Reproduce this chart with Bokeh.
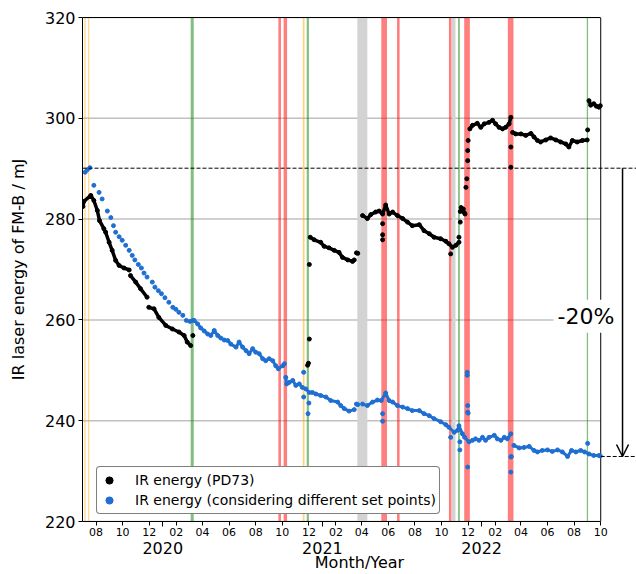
import numpy as np
from bokeh.plotting import figure
from bokeh.models import (Arrow, OpenHead, Label, Legend, LegendItem,
                          DatetimeAxis, FixedTicker, DatetimeTickFormatter, Range1d,
                          ColumnDataSource)
from bokeh.embed import file_html
from bokeh.resources import INLINE

# ---------------- data (days since 2019-07-01, energy in mJ) ----------------
DAY0 = "2019-07-01"

# IR energy (PD73) - continuous segments, None = gap
pd73_days = [1, 3, 19, 26, 34, 39, 49, 53, 61, 68, 76, 84, 95, 107, None,
             110, 122, 133, 148, None,
             152, 164, 175, 191, 206, 221, 233, 240, 248, None,
             522, 531, 546, 554, 565, 577, 588, 596, 608, 619, 623, None,
             628, 631, None,
             642, 653, 661, 672, 680, 688, 695, 703, 711, 722, 734, 745, 756, 772, 783,
             795, 806, 821, 833, 840, 848, 856, 863, None,
             888, 894, 905, 913, 921, 932, 940, 947, 955, 963, 970, 978, 982, None,
             986, 993, 1005, 1016, 1028, 1035, 1043, 1050, 1062, 1073, 1085, 1096, 1108,
             1115, 1123, 1134, 1146, 1157, None,
             1161, 1165, 1172, 1178, 1184, 1187]
pd73_mj = [282.5, 283.5, 284.7, 283.7, 281.7, 279.7, 278.1, 277.4, 275.4, 273.8, 271.8, 270.8, 270.3, 269.9, None,
           268.8, 267.5, 266.2, 264.5, None,
           262.5, 262.2, 260.5, 258.9, 258.2, 257.6, 256.9, 255.6, 254.9, None,
           276.4, 275.9, 275.4, 274.6, 274.3, 273.8, 273.4, 272.4, 271.9, 271.6, 271.9, None,
           273.3, 273.2, None,
           280.7, 280.1, 280.9, 281.4, 281.6, 281.0, 282.8, 281.0, 281.4, 280.7, 280.1, 279.4, 278.7, 278.9, 277.7,
           277.1, 276.4, 276.1, 275.6, 275.1, 274.4, 274.8, 275.4, None,
           297.9, 298.6, 299.0, 298.2, 298.9, 299.2, 299.6, 298.9, 298.2, 297.9, 298.2, 298.9, 300.2, None,
           297.2, 296.9, 296.9, 296.6, 297.0, 296.3, 295.6, 295.3, 295.7, 296.1, 295.7, 295.3, 294.9,
           294.3, 295.6, 295.3, 295.6, 295.7, None,
           303.5, 302.6, 302.9, 302.4, 302.2, 302.5]

# IR energy (PD73) - isolated points
pd73_single_days = [253, 516, 518, 520, 520, 688, 688, 688, 844, 863, 866, 866, 868, 870, 873,
                    875, 877, 879, 881, 883, 883, 884, 982, 982, 1158]
pd73_single_mj = [256.9, 251.0, 251.4, 256.2, 271.0, 279.1, 276.9, 275.9, 273.1, 276.4, 279.4, 281.5,
                  282.3, 281.8, 282.0, 281.3, 281.0, 286.3, 288.0, 291.6, 293.6, 295.6, 294.3, 290.3, 297.7]

# IR energy (considering different set points) - weekly points 2019/2020
setp_sparse_days = [6, 11, 17, 26, 38, 45, 57, 65, 71, 76, 84, 91, 99, 107, 114, 120, 128, 135, 141,
                    148, 160, 166, 174, 181, 189, 198, 207, 214, 221, 230, 238, 246]
setp_sparse_mj = [289.3, 289.8, 290.2, 286.7, 285.3, 284.0, 281.6, 280.3, 278.7, 277.4, 276.5, 275.8,
                  274.8, 273.8, 272.8, 271.9, 271.0, 270.3, 269.3, 268.5, 267.5, 266.5, 265.8, 265.2,
                  264.4, 263.5, 262.5, 262.1, 261.5, 260.9, 259.9, 259.7]

# IR energy (considering different set points) - continuous segments
setp_days = [253, 256, 264, 271, 279, 287, 294, 302, 310, 317, 325, 333, 340, 352, 359, 367, 375, 382,
             390, 397, 405, 413, 420, 428, 436, 443, 449, 459, 463, None,
             466, 468, 474, 482, 489, 497, 504, 512, 520, 527, 535, 546, 558, 569, 585, 592, 600, 611, 623, None,
             628, 631, None,
             642, 653, 665, 676, 685, 695, 703, 711, 722, 734, 745, 756, 772, 783, 795, 806, 821, 833, 840,
             852, 860, 863, 871, 876, 886, 894, 901, 909, 917, 924, 932, 944, 951, 959, 967, 974, 982, None,
             989, 1001, 1012, 1024, 1035, 1043, 1054, 1066, 1077, 1089, 1100, 1112, 1121, 1131, 1142,
             1151, 1161, 1172, 1184, 1187]
setp_mj = [259.9, 259.9, 259.2, 258.4, 257.8, 257.2, 256.9, 257.9, 256.9, 256.4, 256.0, 255.9, 255.2, 254.6,
           255.6, 254.6, 253.9, 253.3, 254.3, 253.6, 253.3, 252.3, 251.9, 252.3, 251.9, 250.9, 250.3, 250.9,
           251.3, None,
           248.6, 247.3, 247.6, 248.0, 247.0, 247.3, 246.6, 246.3, 245.6, 245.6, 245.3, 245.0, 244.7, 244.0,
           243.7, 243.0, 242.4, 241.9, 242.2, None,
           243.3, 243.2, None,
           243.3, 243.0, 243.7, 244.1, 244.0, 245.5, 244.0, 243.7, 243.0, 242.7, 242.4, 242.0, 242.0, 241.4,
           241.0, 240.4, 239.8, 239.2, 238.7, 237.7, 238.1, 239.0, 237.4, 236.7, 235.8, 236.1, 236.4, 236.1,
           236.7, 236.1, 236.7, 237.1, 236.4, 236.1, 236.7, 236.4, 237.4, None,
           235.1, 234.6, 234.7, 234.9, 234.1, 233.8, 234.1, 234.2, 233.9, 234.2, 233.8, 232.9, 234.1, 233.8,
           234.1, 233.8, 233.4, 233.1, 233.1, 233.0]

setp_single_days = [507, 507, 517, 519, 688, 688, 844, 865, 865, 882, 882, 883, 883, 884, 883, 982, 982, 983, 1158]
setp_single_mj = [249.6, 244.7, 241.4, 243.5, 241.4, 239.9, 236.7, 235.8, 234.2, 249.6, 249.0, 243.0,
                  241.7, 241.5, 230.8, 232.8, 229.8, 232.9, 235.5]

# events (vertical bands), days since DAY0
band_start = [4.5, 13, 248, 449, 461, 505, 514, 630, 685, 721, 840, 847, 861, 875, 975, 1156]
band_end = [7, 15.5, 255, 455, 469, 509, 519, 653, 698, 727, 846, 855, 865, 888, 988, 1159]
band_kind = ["orange", "orange", "green", "red", "red", "orange", "green", "grey", "red", "red",
             "red", "grey", "green", "red", "red", "green"]

# reference energies for the -20 % annotation
ref_start_mj = 290.1
ref_end_mj = 232.9

x_start, x_end = "2019-07-01", "2022-10-01"
view_end = "2022-12-22"          # extra room right of the axes for the -20 % annotation
month_ticks = ["2019-08-01", "2019-10-01", "2019-12-01", "2020-02-01", "2020-04-01", "2020-06-01",
               "2020-08-01", "2020-10-01", "2020-12-01", "2021-02-01", "2021-04-01", "2021-06-01",
               "2021-08-01", "2021-10-01", "2021-12-01", "2022-02-01", "2022-04-01", "2022-06-01",
               "2022-08-01", "2022-10-01"]
year_ticks = ["2020-01-01", "2021-01-01", "2022-01-01"]
y_ticks = [220, 240, 260, 280, 300, 320]

# ---------------- helpers ----------------
def date_ms(s):
    return float(np.datetime64(s, "ms").astype(np.int64))

DAY0_MS = date_ms(DAY0)

def days_ms(days):
    return DAY0_MS + np.array(days, dtype=float) * 86400000.0

FONT = "DejaVu Sans"
BLUE = "#1f6fd2"
band_colors = {"orange": ("orange", 0.5), "green": ("green", 0.5), "red": ("red", 0.5),
               "grey": ("#d3d3d3", 1.0)}

X0, X1 = date_ms(x_start), date_ms(x_end)

p = figure(width=636, height=574, x_axis_type="datetime",
           x_range=Range1d(X0, date_ms(view_end)), y_range=Range1d(y_ticks[0], y_ticks[-1]),
           output_backend="svg", toolbar_location=None,
           min_border_left=82, min_border_right=0, min_border_top=17, min_border_bottom=0)
p.background_fill_color = "white"
p.border_fill_color = "white"
p.outline_line_color = None

# horizontal grid (limited to the axes box)
p.segment(x0=[X0] * len(y_ticks), x1=[X1] * len(y_ticks), y0=y_ticks, y1=y_ticks,
          line_color="#c0c0c0", line_width=1.5)

# event bands
for kind in ["orange", "green", "red", "grey"]:
    idx = [i for i, k in enumerate(band_kind) if k == kind]
    c, a = band_colors[kind]
    p.quad(left=days_ms([band_start[i] for i in idx]), right=days_ms([band_end[i] for i in idx]),
           bottom=y_ticks[0], top=y_ticks[-1], fill_color=c, fill_alpha=a, line_color=None)

# right edge of axes box
p.segment(x0=[X1], x1=[X1], y0=[y_ticks[0]], y1=[y_ticks[-1]], line_color="black", line_width=1)

# data
blk = ColumnDataSource(dict(x=days_ms(pd73_days), y=np.array(pd73_mj, dtype=float)))
blk1 = ColumnDataSource(dict(x=days_ms(pd73_single_days), y=np.array(pd73_single_mj, dtype=float)))
blu = ColumnDataSource(dict(x=days_ms(setp_days), y=np.array(setp_mj, dtype=float)))
blu0 = ColumnDataSource(dict(x=days_ms(setp_sparse_days), y=np.array(setp_sparse_mj, dtype=float)))
blu1 = ColumnDataSource(dict(x=days_ms(setp_single_days), y=np.array(setp_single_mj, dtype=float)))

p.line("x", "y", source=blk, line_color="black", line_width=3.5)
r_blk = p.scatter("x", "y", source=blk, size=4, color="black")
p.scatter("x", "y", source=blk1, size=4, color="black")
p.line("x", "y", source=blu, line_color=BLUE, line_width=3)
r_blu = p.scatter("x", "y", source=blu, size=4, color=BLUE)
p.scatter("x", "y", source=blu0, size=4, color=BLUE)
p.scatter("x", "y", source=blu1, size=4, color=BLUE)

# axes
p.xgrid.visible = False
p.ygrid.visible = False

p.yaxis.ticker = FixedTicker(ticks=y_ticks)
p.yaxis.axis_label = "IR laser energy of FM-B / mJ"
for ax in (p.yaxis[0], p.xaxis[0]):
    ax.axis_line_color = "black"
    ax.major_tick_line_color = "black"
    ax.major_tick_out = 4
    ax.major_tick_in = 0
    ax.major_label_text_color = "black"
    ax.major_label_text_font = FONT
    ax.axis_label_text_color = "black"
    ax.axis_label_text_font = FONT
    ax.axis_label_text_font_style = "normal"
p.yaxis.minor_tick_line_color = None
p.yaxis.major_label_text_font_size = "16px"
p.yaxis.axis_label_text_font_size = "16px"
p.yaxis.major_label_standoff = 3
p.yaxis.axis_label_standoff = 14

fmt_m = dict((k, "%m") for k in ["microseconds", "milliseconds", "seconds", "minsec", "minutes",
                                  "hourmin", "hours", "days", "months", "years"])
fmt_y = dict((k, "%Y") for k in fmt_m)
p.xaxis.bounds = (X0, X1)
p.xaxis.ticker = FixedTicker(ticks=[date_ms(t) for t in month_ticks],
                             minor_ticks=[date_ms(t) for t in year_ticks])
p.xaxis.formatter = DatetimeTickFormatter(**fmt_m)
p.xaxis.major_label_text_font_size = "11px"
p.xaxis.major_label_standoff = 1
p.xaxis.minor_tick_line_color = "black"
p.xaxis.minor_tick_out = 5
p.xaxis.minor_tick_in = 0

year_axis = DatetimeAxis(ticker=FixedTicker(ticks=[date_ms(t) for t in year_ticks]),
                         formatter=DatetimeTickFormatter(**fmt_y), bounds=(X0, X1),
                         axis_line_color=None, major_tick_line_color=None, minor_tick_line_color=None,
                         major_tick_out=0, major_tick_in=0, major_label_standoff=3,
                         major_label_text_font=FONT, major_label_text_font_size="16px",
                         major_label_text_color="black",
                         axis_label="Month/Year", axis_label_standoff=-4,
                         axis_label_text_font=FONT, axis_label_text_font_size="16px",
                         axis_label_text_font_style="normal", axis_label_text_color="black")
p.add_layout(year_axis, "below")

# top edge of axes box
top_axis = DatetimeAxis(ticker=FixedTicker(ticks=[]), bounds=(X0, X1), axis_line_color="black",
                        major_tick_line_color=None, minor_tick_line_color=None,
                        major_tick_out=0, major_tick_in=0, major_label_standoff=0,
                        major_label_text_font_size="0px")
p.add_layout(top_axis, "above")

# -20 % annotation
arrow_x = date_ms("2022-11-20")
XE = date_ms(view_end)
p.add_layout(Arrow(x_start=X0, y_start=ref_start_mj, x_end=XE, y_end=ref_start_mj, end=None,
                   line_color="black", line_width=1, line_dash="4 2"))
p.add_layout(Arrow(x_start=X1, y_start=ref_end_mj, x_end=XE, y_end=ref_end_mj, end=None,
                   line_color="black", line_width=1, line_dash="4 2"))
p.add_layout(Arrow(x_start=arrow_x, y_start=ref_start_mj, x_end=arrow_x, y_end=ref_end_mj,
                   line_color="black", line_width=1.5,
                   end=OpenHead(size=12, line_color="black", line_width=1.5)))
p.add_layout(Label(x=date_ms("2022-08-28"), y=(ref_start_mj + ref_end_mj) / 2 - 0.8, text="-20%",
                   text_font=FONT, text_font_size="22px", text_color="black",
                   text_align="center", text_baseline="middle",
                   background_fill_color="white", background_fill_alpha=1.0, padding=4))

legend = Legend(items=[LegendItem(label="IR energy (PD73)", renderers=[r_blk]),
                       LegendItem(label="IR energy (considering different set points)", renderers=[r_blu])],
                location=(14, 7), margin=0, padding=3, spacing=0,
                glyph_width=18, glyph_height=20, label_height=20, label_standoff=17,
                label_text_font=FONT, label_text_font_size="14px", label_text_color="black",
                border_line_color="black", border_line_width=1, border_radius=4,
                background_fill_color="white", background_fill_alpha=1.0)
p.add_layout(legend)

open("out.html", "w").write(file_html(p, INLINE))
